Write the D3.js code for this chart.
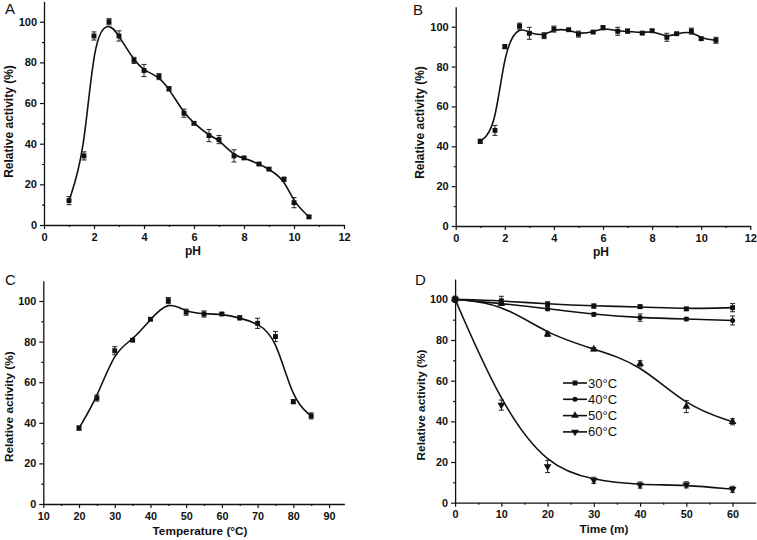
<!DOCTYPE html>
<html><head><meta charset="utf-8">
<script src="https://cdn.jsdelivr.net/npm/d3@7"></script>
<style>body{margin:0;background:#fff}svg{display:block}</style></head>
<body><svg id="c" width="757" height="540"></svg>
<script>
// ---------- data ----------
const phValues = [1,1.6,2,2.6,3,3.6,4,4.6,5,5.6,6,6.6,7,7.6,8,8.6,9,9.6,10,10.6];
const phOptimum    = [12,34,93,100,93,81,76,73,67,55,50,44,42,34,33,30,27.5,22.5,11,4];
const phOptimumErr = [2,2,2,1.5,2.5,1.5,3,1.5,1,2,0.6,3,2,3,0.6,0.6,0.6,1,2.5,0.6];
const phStability    = [42.5,48,90,100.3,96.7,95.5,98.8,98.5,96.3,97.3,99.5,97.7,97.8,96.8,98,94.7,96.5,97.8,94,93.2];
const phStabilityErr = [1,2.5,1,1.5,3,1.5,1.5,0.6,1.5,0.6,1,2,1,0.6,0.6,2,0.6,1.5,0.6,1.5];
const temperatures = [20,25,30,35,40,45,50,55,60,65,70,75,80,85];
const tempOptimum    = [37.4,52.2,75.5,80.7,91,100.2,94.5,93.6,93.6,91.7,89,82.5,50.4,43.4];
const tempOptimumErr = [1,1.5,2,0.6,0.6,1.5,1.5,1.5,0.6,1,2.5,2.5,1,1.5];
const times = [0,10,20,30,40,50,60];
const seriesLabels = ["30°C","40°C","50°C","60°C"];
const stab30 = [100,99.3,97.7,96.7,96.4,95.3,95.9];
const stab30Err = [1.5,2.2,1,1,0.8,0.8,2];
const stab40 = [100,98,95.4,92.6,91,90.3,89.6];
const stab40Err = [1,1,1,0.8,1.8,0.8,2.2];
const stab50 = [100,98,82.8,75.5,68.3,47.3,39.8];
const stab50Err = [1,1,1,0.8,1.5,3,1.5];
const stab60 = [100,48,17.8,11,8.7,8.8,6.6];
const stab60Err = [1,2.5,3,1.5,1.5,1.5,1.5];
const yTicks = [0,20,40,60,80,100];
const yMinor = [10,30,50,70,90];
const phTicks = [0,2,4,6,8,10,12];
const phMinor = [1,3,5,7,9,11];
const tempTicks = [10,20,30,40,50,60,70,80,90];
const tempMinor = [15,25,35,45,55,65,75,85];
const timeTicks = [0,10,20,30,40,50,60];
const timeMinor = [5,15,25,35,45,55];

// ---------- drawing ----------
const svg = d3.select("#c");
const FONT = "'Liberation Sans', Arial, Helvetica, sans-serif";
const INK = "#111";

const squareSym = d3.symbol().type(d3.symbolSquare).size(24);
const circleSym = d3.symbol().type(d3.symbolCircle).size(20);
const triSym = d3.symbol().type(d3.symbolTriangle).size(26);

function panel(cfg) {
  const g = svg.append("g");
  const x = d3.scaleLinear().domain(cfg.xDomain).range(cfg.xRange);
  const y = d3.scaleLinear().domain([0,110]).range(cfg.yRange);
  const fs = cfg.fs;

  // axes
  g.append("g").attr("transform", `translate(0,${cfg.yRange[0]})`)
    .call(d3.axisBottom(x).tickValues(cfg.xTicks).tickSize(4).tickSizeOuter(0).tickPadding(4).tickFormat(d3.format("d")));
  g.append("g").attr("transform", `translate(0,${cfg.yRange[0]})`)
    .call(d3.axisBottom(x).tickValues(cfg.xMinor).tickSize(2).tickFormat("")).select(".domain").remove();
  g.append("g").attr("transform", `translate(${cfg.xRange[0]},0)`)
    .call(d3.axisLeft(y).tickValues(yTicks).tickSize(4).tickSizeOuter(0).tickPadding(3).tickFormat(d3.format("d")));
  g.append("g").attr("transform", `translate(${cfg.xRange[0]},0)`)
    .call(d3.axisLeft(y).tickValues(yMinor).tickSize(2).tickFormat("")).select(".domain").remove();
  g.selectAll(".domain").attr("stroke", INK).attr("stroke-width", 1.3);
  g.selectAll(".tick line").attr("stroke", INK).attr("stroke-width", 1.2);
  g.selectAll(".tick text").attr("font-family", FONT).attr("font-weight", "bold")
    .attr("font-size", fs).attr("fill", INK);

  // titles
  g.append("text").attr("transform", `translate(${cfg.yTitle[0]},${cfg.yTitle[1]}) rotate(-90)`)
    .attr("text-anchor", "middle").attr("font-family", FONT).attr("font-weight", "bold")
    .attr("font-size", fs + 1).attr("fill", INK).text("Relative activity (%)");
  g.append("text").attr("x", cfg.xTitle[0]).attr("y", cfg.xTitle[1])
    .attr("text-anchor", "middle").attr("font-family", FONT).attr("font-weight", "bold")
    .attr("font-size", fs + 1).attr("fill", INK).text(cfg.xLabel);
  g.append("text").attr("x", cfg.letter[0]).attr("y", cfg.letter[1])
    .attr("font-family", FONT).attr("font-size", 15).attr("fill", INK).text(cfg.name);

  const line = d3.line().x(d => x(d[0])).y(d => y(d[1])).curve(d3.curveBasis);
  cfg.series.forEach(s => {
    const pts = cfg.xs.map((xv, i) => [xv, s.values[i], s.err[i]]);
    g.append("path").datum(pts).attr("d", line).attr("fill", "none")
      .attr("stroke", INK).attr("stroke-width", 1.6);
    const eb = g.append("g").attr("stroke", "#222").attr("stroke-width", 1);
    pts.forEach(p => {
      const x0 = x(p[0]), y1 = y(p[1] - p[2]), y2 = y(p[1] + p[2]);
      eb.append("line").attr("x1", x0).attr("x2", x0).attr("y1", y1).attr("y2", y2);
      eb.append("line").attr("x1", x0 - 2.5).attr("x2", x0 + 2.5).attr("y1", y1).attr("y2", y1);
      eb.append("line").attr("x1", x0 - 2.5).attr("x2", x0 + 2.5).attr("y1", y2).attr("y2", y2);
    });
    g.append("g").selectAll("path").data(pts).join("path")
      .attr("d", s.sym).attr("fill", INK)
      .attr("transform", p => `translate(${x(p[0])},${y(p[1])})${s.rot ? " rotate(180)" : ""}`);
  });
  return {g, x, y};
}

panel({name:"A", xDomain:[0,12], xRange:[44,344], yRange:[225,1.4], xTicks:phTicks, xMinor:phMinor,
  xs:phValues, series:[{values:phOptimum, err:phOptimumErr, sym:squareSym}], fs:11,
  yTitle:[13,121.5], xTitle:[193,255], xLabel:"pH", letter:[5,14]});
panel({name:"B", xDomain:[0,12], xRange:[455.7,750.3], yRange:[226,6.8], xTicks:phTicks, xMinor:phMinor,
  xs:phValues, series:[{values:phStability, err:phStabilityErr, sym:squareSym}], fs:11,
  yTitle:[424,122.5], xTitle:[601,256], xLabel:"pH", letter:[413,15]});
panel({name:"C", xDomain:[10,94.3], xRange:[43.3,344.4], yRange:[504,280.7], xTicks:tempTicks, xMinor:tempMinor,
  xs:temperatures, series:[{values:tempOptimum, err:tempOptimumErr, sym:squareSym}], fs:10.8,
  yTitle:[13,406.7], xTitle:[200,535], xLabel:"Temperature (°C)", letter:[5,285]});
panel({name:"D", xDomain:[0,65], xRange:[455.1,755.7], yRange:[502.7,279], xTicks:timeTicks, xMinor:timeMinor,
  xs:times, series:[
    {values:stab30, err:stab30Err, sym:squareSym},
    {values:stab40, err:stab40Err, sym:circleSym},
    {values:stab50, err:stab50Err, sym:triSym},
    {values:stab60, err:stab60Err, sym:triSym, rot:true}], fs:10.8,
  yTitle:[425,405], xTitle:[604,533], xLabel:"Time (m)", letter:[415,285]});

// legend for D
const legSyms = [squareSym, circleSym, triSym, triSym];
const leg = svg.append("g");
seriesLabels.forEach((lab, i) => {
  const yy = 383 + i * 16.3;
  leg.append("line").attr("x1", 563).attr("x2", 587).attr("y1", yy).attr("y2", yy)
    .attr("stroke", INK).attr("stroke-width", 1.6);
  leg.append("path").attr("d", legSyms[i]).attr("fill", INK)
    .attr("transform", `translate(575,${yy})${i === 3 ? " rotate(180)" : ""}`);
  leg.append("text").attr("x", 588).attr("y", yy + 4.5).attr("font-family", FONT)
    .attr("font-size", 13).attr("fill", INK).text(lab);
});
</script></body></html>
